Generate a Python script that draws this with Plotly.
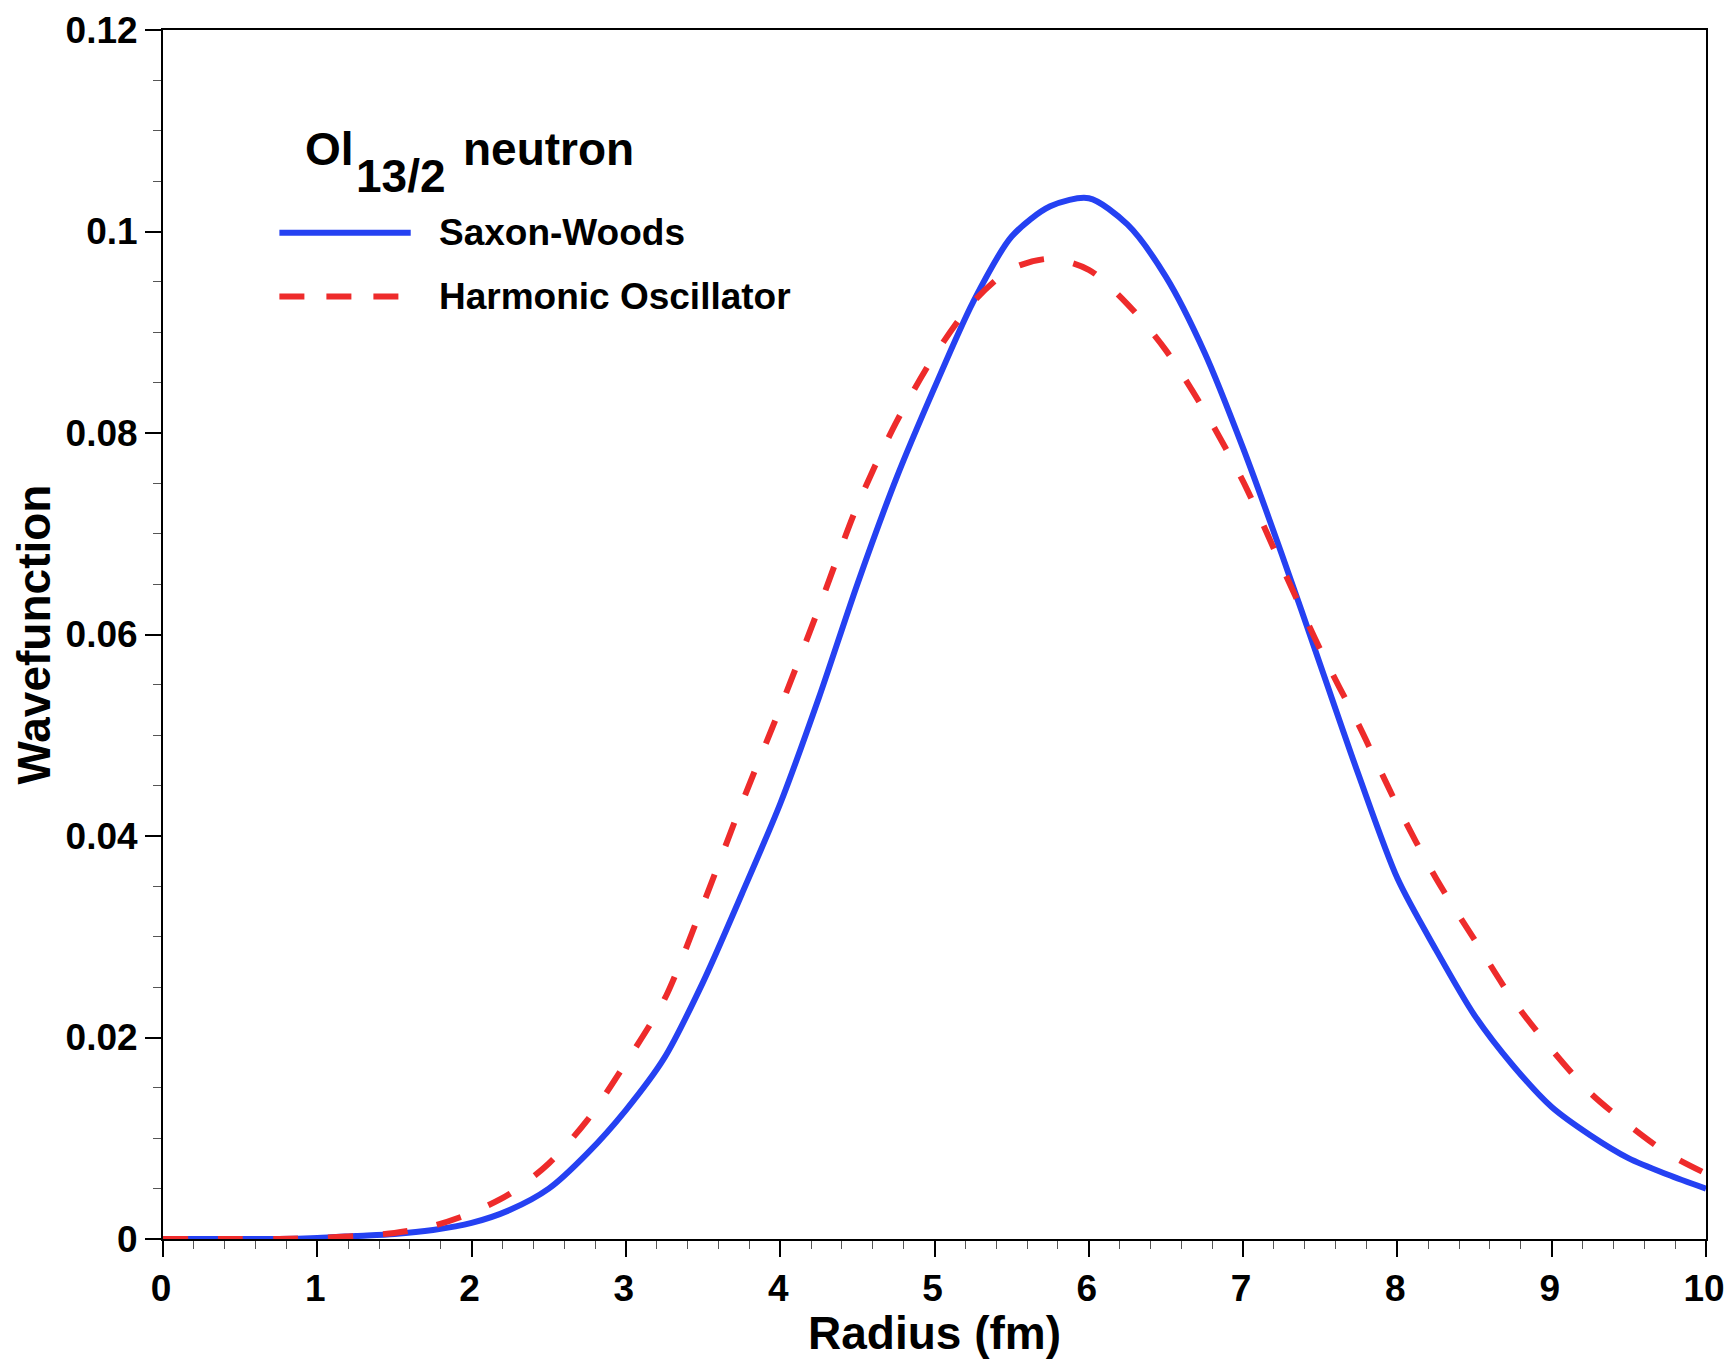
import plotly.graph_objects as go

# ---- data ----
radius = [0.0, 0.25, 0.5, 0.75, 1.0, 1.25, 1.5, 1.75, 2.0, 2.25, 2.5, 2.75, 3.0, 3.25, 3.5, 3.75,
          4.0, 4.25, 4.5, 4.75, 5.0, 5.25, 5.5, 5.75, 6.0, 6.25, 6.5, 6.75, 7.0, 7.25, 7.5, 7.75,
          8.0, 8.25, 8.5, 8.75, 9.0, 9.25, 9.5, 9.75, 10.0]

saxon_woods = [0.0, 0.0, 0.0, 0.0, 0.0001, 0.0003, 0.0005, 0.0009, 0.0016, 0.0029, 0.0050, 0.0085,
               0.0128, 0.0180, 0.0255, 0.0342, 0.0432, 0.0537, 0.0650, 0.0754, 0.0845, 0.0930,
               0.0995, 0.1025, 0.1033, 0.1007, 0.0955, 0.0880, 0.0785, 0.0680, 0.0570, 0.0460,
               0.0358, 0.0287, 0.0222, 0.0172, 0.0131, 0.0103, 0.0080, 0.0064, 0.0050]

harmonic_osc = [0.0, 0.0, 0.0, 0.0, 0.0001, 0.0003, 0.0006, 0.0013, 0.0026, 0.0045, 0.0075, 0.0118,
                0.0175, 0.0238, 0.0332, 0.0432, 0.0527, 0.0626, 0.0728, 0.0810, 0.0877, 0.0930,
                0.0963, 0.0973, 0.0962, 0.0928, 0.0882, 0.0822, 0.0752, 0.0668, 0.0585, 0.0510,
                0.0430, 0.0358, 0.0297, 0.0237, 0.0188, 0.0145, 0.0113, 0.0085, 0.0065]

series_names = ["Saxon-Woods", "Harmonic Oscillator"]
y_tickvals = [0, 0.02, 0.04, 0.06, 0.08, 0.1, 0.12]
y_ticktext = ["0", "0.02", "0.04", "0.06", "0.08", "0.1", "0.12"]
x_tickvals = [0, 1, 2, 3, 4, 5, 6, 7, 8, 9, 10]

BLUE = "#2541F2"
RED = "#EE2B2B"
FONT = "Liberation Sans"

W, H = 1734, 1359
# the page is photographed slightly reduced; compensate so the final picture matches
S = 1.0 / 0.9935

# target plot-area edges in the final picture (pixels)
left_t, right_t, top_t, bottom_t = 162, 1713, 27, 1243
ml = left_t * S
mr = W - right_t * S
mt = top_t * S
mb = H - bottom_t * S
pw, ph = W - ml - mr, H - mt - mb


def px(xp):
    return (xp * S - ml) / pw


def py(yp):
    return (H - mb - yp * S) / ph


fig = go.Figure()
fig.add_trace(go.Scatter(x=radius, y=saxon_woods, mode="lines", name=series_names[0],
                         line=dict(color=BLUE, width=6, shape="spline", smoothing=0.8),
                         showlegend=False))
fig.add_trace(go.Scatter(x=radius, y=harmonic_osc, mode="lines", name=series_names[1],
                         line=dict(color=RED, width=6, dash="25px,30px", shape="spline",
                                   smoothing=0.8),
                         showlegend=False))

axis_common = dict(showline=True, linecolor="black", linewidth=2, mirror=True,
                   ticks="outside", ticklen=16, tickwidth=2, tickcolor="black",
                   showgrid=False, zeroline=False, ticklabeloverflow="allow",
                   tickfont=dict(family=FONT, size=37, color="black", weight="bold"))

fig.update_xaxes(range=[0, 10], tickvals=x_tickvals, ticklabelshift=-2,
                 minor=dict(dtick=0.2, ticklen=8, tickwidth=1, tickcolor="#555", ticks="outside"),
                 title=dict(text="Radius (fm)", standoff=8,
                            font=dict(family=FONT, size=46, color="black", weight="bold")),
                 **axis_common)
fig.update_yaxes(range=[0, 0.12], tickvals=y_tickvals, ticktext=y_ticktext,
                 minor=dict(dtick=0.005, ticklen=8, tickwidth=1, tickcolor="#555", ticks="outside"),
                 title=dict(text="Wavefunction", standoff=0,
                            font=dict(family=FONT, size=46, color="black", weight="bold")),
                 **axis_common)

# legend drawn manually (long sample lines as in the reference)
leg_y = [231, 295]
leg_colors = [BLUE, RED]
leg_dash = ["solid", "25px,22px"]
for name, yy, c, d in zip(series_names, leg_y, leg_colors, leg_dash):
    fig.add_shape(type="line", xref="paper", yref="paper",
                  x0=px(279), x1=px(411), y0=py(yy), y1=py(yy),
                  line=dict(color=c, width=6, dash=d))
    fig.add_annotation(xref="paper", yref="paper", x=px(437), y=py(yy),
                       xanchor="left", yanchor="middle", showarrow=False, text=name,
                       font=dict(family=FONT, size=37, color="black", weight="bold"))

# legend title: Ol_{13/2} neutron
title_parts = [("Ol", 303, 147), ("13/2", 354, 174), ("neutron", 462, 147)]
for txt, xx, yy in title_parts:
    fig.add_annotation(xref="paper", yref="paper", x=px(xx), y=py(yy),
                       xanchor="left", yanchor="middle", showarrow=False, text=txt,
                       font=dict(family=FONT, size=46, color="black", weight="bold"))

fig.update_layout(width=W, height=H, margin=dict(l=ml, r=mr, t=mt, b=mb),
                  plot_bgcolor="white", paper_bgcolor="white")

fig.write_html("out.html")
